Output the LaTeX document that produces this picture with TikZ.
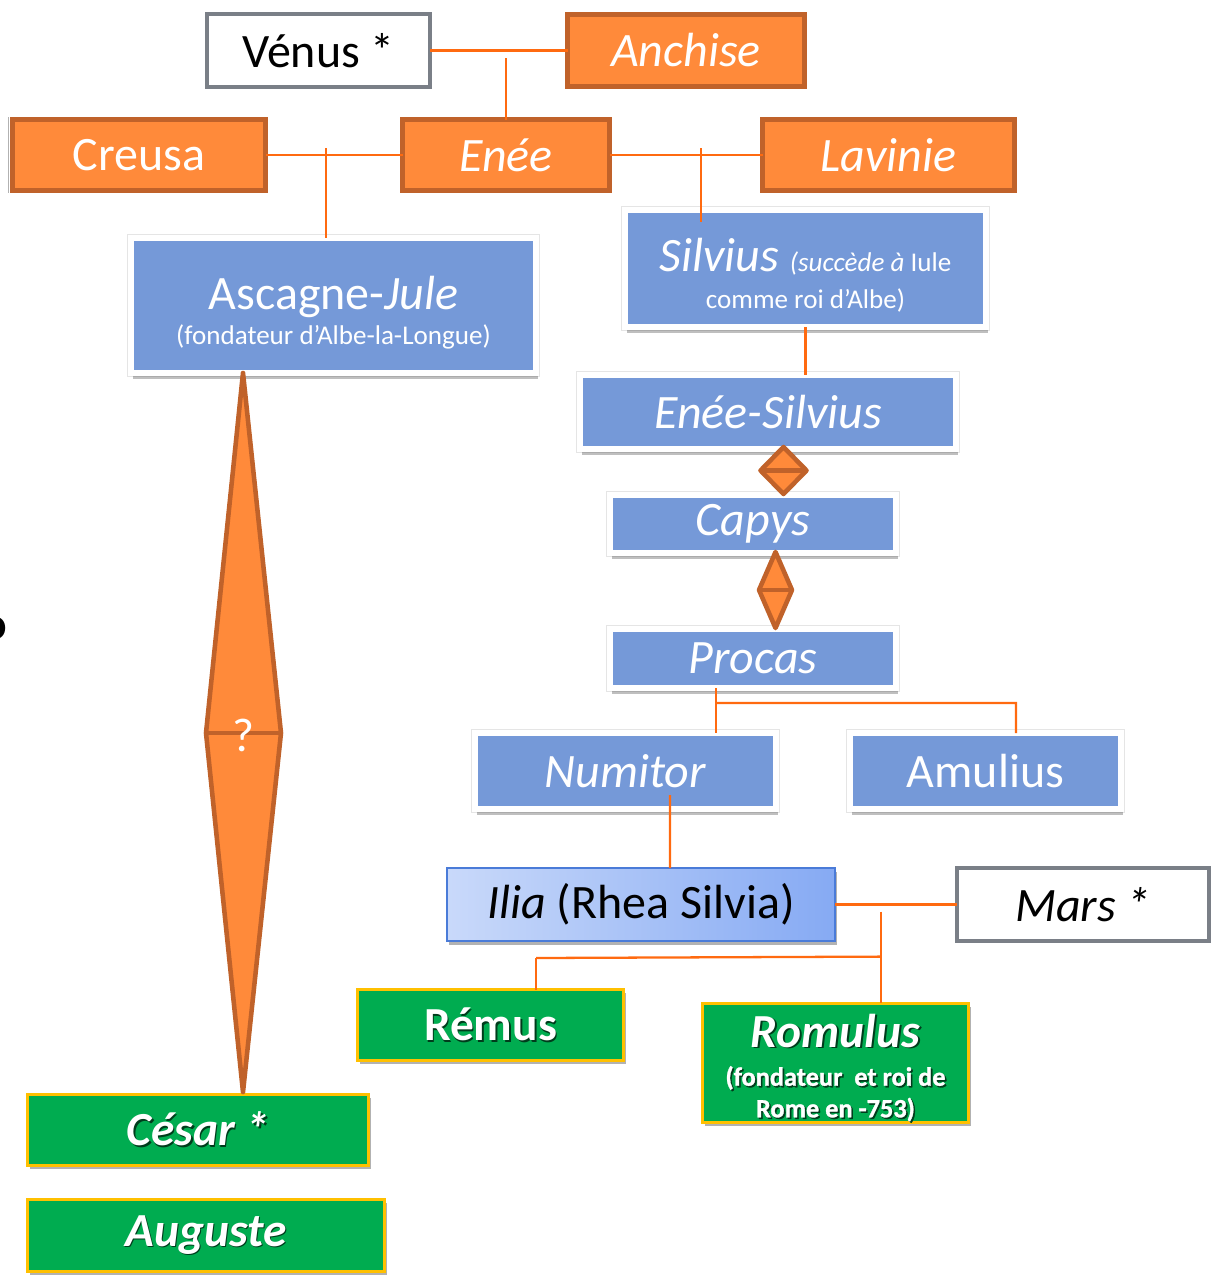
\documentclass[tikz,border=0pt]{standalone}
\usepackage{fontspec}
\setmainfont{Carlito}
\usetikzlibrary{shadows,calc}
\definecolor{orfill}{HTML}{FF8A3A}
\definecolor{ordraw}{HTML}{C0622A}
\definecolor{conn}{HTML}{FF6A10}
\definecolor{bluefill}{HTML}{7599D8}
\definecolor{greenfill}{HTML}{00AC50}
\definecolor{goldline}{HTML}{FFC000}
\definecolor{grayline}{HTML}{7A7F87}
\definecolor{ilialeft}{HTML}{C9D9FA}
\definecolor{iliaright}{HTML}{86AAF3}
\definecolor{iliadraw}{HTML}{4A7BD8}
\newcommand\shd[1]{\leavevmode\rlap{\kern0.9pt\raisebox{-0.9pt}{\textcolor{greenfill!35!black}{#1}}}#1}
\newcommand\subfont{\fontsize{15.4}{20}\selectfont}
\tikzset{
  sz/.style 2 args={minimum width=#1*0.02cm, minimum height=#2*0.02cm},
  base/.style={rectangle, inner sep=0pt, outer sep=0pt, align=center, font=\fontsize{27.3}{30}\selectfont},
  orbox/.style={base, fill=orfill, draw=ordraw, line width=2.8pt, text=white},
  whbox/.style={base, fill=white, draw=grayline, line width=2.3pt, text=black},
  blbox/.style={base, fill=bluefill, draw=white, line width=3.4pt, text=white,
    preaction={draw=black!10, line width=4.4pt},
    drop shadow={shadow xshift=1pt, shadow yshift=-3.2pt, opacity=0.25, fill=black}},
  grbox/.style={base, fill=greenfill, draw=goldline, line width=1.7pt, text=white,
    font=\fontsize{27}{30}\selectfont\bfseries,
    drop shadow={shadow xshift=1.2pt, shadow yshift=-2pt, opacity=0.3, fill=black}},
  iliabox/.style={base, left color=ilialeft, right color=iliaright, draw=iliadraw, line width=1.2pt, text=black,
    drop shadow={shadow xshift=1.2pt, shadow yshift=-2pt, opacity=0.3, fill=black}},
  link/.style={draw=conn, line width=1.3pt},
  dia/.style={fill=orfill, draw=ordraw, line width=2.6pt, line join=round},
}
\begin{document}
\begin{tikzpicture}[x=0.02cm, y=-0.02cm]
\useasboundingbox (0,0) rectangle (1211,1275);

% cut-off glyph at the left edge
\node[font=\fontsize{26}{30}\selectfont\bfseries, inner sep=0pt] (cutoff) at (-5,628) {o};

% top generation
\node[whbox, sz={223}{73}] (venus) at (318.5,50.5) {Vénus *};
\node[orbox, sz={237}{72}] (anchise) at (686,50.5) {\textit{Anchise}};
\node[orbox, sz={253}{71}] (creusa) at (139,155) {Creusa};
\draw[black!30, line width=0.5pt] (8.5,117) -- (8.5,193);
\node[orbox, sz={207}{71}] (enee) at (506,155) {\textit{Enée}};
\node[orbox, sz={252}{71}] (lavinie) at (888.5,155) {\textit{Lavinie}};

% blue boxes
\node[blbox, sz={405}{135}, font=\fontsize{27.3}{20}\selectfont] (ascagne) at (333.5,305.5)
  {\rule{0pt}{27pt}Ascagne-\textit{Jule}\\{\subfont (fondateur d’Albe-la-Longue)}};
\node[blbox, sz={361}{117}, font=\fontsize{27.3}{21}\selectfont] (silvius) at (805.5,268.5)
  {\rule{0pt}{27pt}\textit{Silvius} {\subfont\textit{(succède à} Iule}\\{\subfont comme roi d’Albe)}};
\node[blbox, sz={376}{74}] (eneesilvius) at (768,412) {\textit{Enée-Silvius}};
\node[blbox, sz={286}{58}] (capys) at (753,524) {\textit{Capys}};
\node[blbox, sz={286}{59}] (procas) at (753,658.5) {\textit{Procas}};
\node[blbox, sz={301}{76}] (numitor) at (625.5,771) {\textit{Numitor}};
\node[blbox, sz={271}{76}] (amulius) at (985.5,771) {Amulius};

% Ilia and Mars
\node[iliabox, sz={388}{73}] (ilia) at (641,904.5) {\textit{Ilia} (Rhea Silvia)};
\node[whbox, sz={252}{73}] (mars) at (1083,904.5) {\textit{Mars *}};

% green boxes
\node[grbox, sz={266}{71}] (remus) at (490.5,1025) {\shd{Rémus}};
\node[grbox, sz={266}{117}, font=\fontsize{27}{22}\selectfont\bfseries] (romulus) at (835.5,1063)
  {\rule{0pt}{25pt}\shd{\textit{Romulus}}\\{\fontsize{15}{17.6}\selectfont\addfontfeatures{FakeBold=1.2}\shd{(fondateur\ \ et roi de}}\\[-4pt]{\fontsize{15}{17.6}\selectfont\addfontfeatures{FakeBold=1.2}\shd{Rome en -753)}}};
\node[grbox, sz={341}{71}] (cesar) at (198,1130) {\shd{\textit{César *}}};
\node[grbox, sz={357}{72}] (auguste) at (206,1235.5) {\shd{\textit{Auguste}}};

% connectors
\coordinate (vaj) at ($(enee.north)+(0,-61.5)$);
\draw[link] (venus.east) -- (anchise.west);
\draw[link] (vaj) -- (enee.north);
\draw[link] (creusa.east) -- (enee.west);
\draw[link] ($(ascagne.north)+(-7.5,-90)$) -- ($(ascagne.north)+(-7.5,0)$);
\draw[link] (enee.east) -- (lavinie.west);
\draw[link] ($(silvius.north)+(-104.5,-62)$) -- ($(silvius.north)+(-104.5,12)$);
\draw[link] (silvius.south) -- (silvius.south |- eneesilvius.north);

\coordinate (pj) at ($(procas.south)+(-37,15)$);
\coordinate (aj) at ($(amulius.north)+(30.5,-30)$);
\draw[link] ($(procas.south)+(-37,0)$) -- (pj |- numitor.north);
\draw[link] (pj) -- (aj) -- ($(amulius.north)+(30.5,0)$);
\draw[link] ($(numitor.south)+(44.5,-14)$) -- ($(ilia.north)+(29,0)$);
\draw[link] (ilia.east) -- (mars.west);
\draw[link] ($(romulus.north)+(45.5,-91.5)$) -- ($(romulus.north)+(45.5,0)$);
\draw[link] ($(remus.north)+(45.5,-31.5)$) -- ($(romulus.north)+(45.5,-46.5)$);
\draw[link] ($(remus.north)+(45.5,-31.5)$) -- ($(remus.north)+(45.5,0)$);

% diamonds
\draw[dia] (783.5,447) -- (806.5,470.5) -- (783.5,494) -- (760.5,470.5) -- cycle;
\draw[ordraw, line width=2.6pt] (760.5,470.5) -- (806.5,470.5);
\draw[dia] (775.5,552) -- (792,590) -- (775.5,628) -- (759,590) -- cycle;
\draw[ordraw, line width=2.6pt] (759,590) -- (792,590);
\draw[dia] (243,373) -- (281,733) -- (243,1092) -- (206,733) -- cycle;
\draw[ordraw, line width=2.6pt] (206,733) -- (281,733);
\node[text=white, font=\fontsize{27}{30}\selectfont, inner sep=0pt] (q) at (243,735) {?};
\end{tikzpicture}
\end{document}
